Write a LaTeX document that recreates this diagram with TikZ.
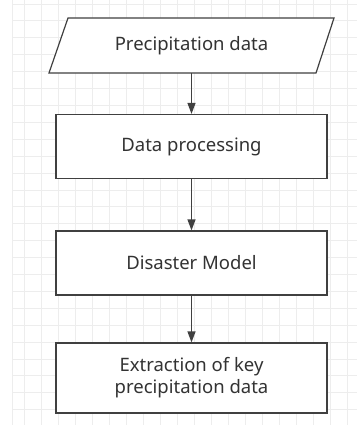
\documentclass[tikz,border=0pt]{standalone}
\usepackage{fontspec}
\setmainfont{Noto Sans}
\usetikzlibrary{arrows.meta}
\definecolor{gridc}{HTML}{EDEDED}
\definecolor{linec}{HTML}{404040}
\definecolor{textc}{HTML}{333333}
\tikzset{
  lbl/.style={text=textc, font=\fontsize{18.5}{22}\selectfont, align=center},
  stepbox/.style={lbl, draw=linec, line width=1.2pt, fill=white, minimum width=271pt, minimum height=64pt, inner sep=0pt},
  flow/.style={draw=linec, line width=1.2pt, -{Triangle[width=8pt,length=11pt]}},
}
\begin{document}
\begin{tikzpicture}[x=1pt,y=-1pt]
\useasboundingbox (0,0) rectangle (357,425);
\fill[white] (0,0) rectangle (357,425);
% grid
\foreach \i in {0,...,19} {
  \draw[gridc, line width=0.8pt] ({24+17*\i},0) -- ({24+17*\i},425);
}
\draw[gridc, line width=0.8pt] (12,0) -- (12,425);
\foreach \j in {0,...,24} {
  \draw[gridc, line width=0.8pt] (12,{4+16.9*\j}) -- (357,{4+16.9*\j});
}
% parallelogram
\coordinate (ptl) at (68,18);
\coordinate (ptr) at (334,18);
\coordinate (pbr) at (316,73);
\coordinate (pbl) at (49,73);
\filldraw[draw=linec, fill=white, line width=1.2pt, line join=miter] (ptl) -- (ptr) -- (pbr) -- (pbl) -- cycle;
\node[lbl, inner sep=0pt, minimum height=55pt] (p) at (191.5,45.5) {Precipitation data};
\node[stepbox] (b1) at (191.5,146.5) {Data processing};
\node[stepbox] (b2) at (191.5,263) {Disaster Model};
\node[stepbox, minimum height=70pt] (b3) at (191.5,378) {Extraction of key\\precipitation data};
\draw[flow] (p.south) -- (b1.north);
\draw[flow] (b1.south) -- (b2.north);
\draw[flow] (b2.south) -- (b3.north);
\end{tikzpicture}
\end{document}
